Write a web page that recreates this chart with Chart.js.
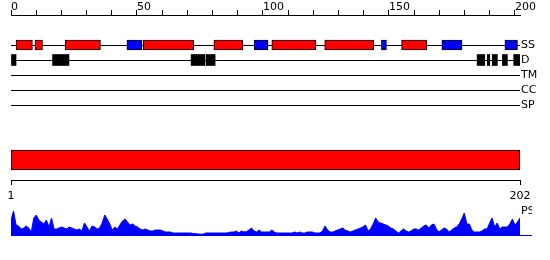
<!DOCTYPE html>
<html>
<head>
<meta charset="utf-8">
<script src="https://cdn.jsdelivr.net/npm/chart.js@4.4.1/dist/chart.umd.min.js"></script>
<style>
  html, body { margin: 0; padding: 0; background: #fff; }
  #wrap { position: relative; width: 550px; height: 260px; }
  canvas { position: absolute; left: 0; }
</style>
</head>
<body>
<div id="wrap">
  <canvas id="tracks" width="550" height="120" style="top:0"></canvas>
  <canvas id="seqBar" width="550" height="70" style="top:130px"></canvas>
  <canvas id="profile" width="550" height="45" style="top:200px"></canvas>
</div>
<script>
// Track names (top panel) and residue ranges
const trackNames = ["SS", "D", "TM", "CC", "SP"];
const axisTicks = [0, 10, 20, 30, 40, 50, 60, 70, 80, 90, 100, 110, 120, 130, 140, 150, 160, 170, 180, 190, 200];
const seqLength = 202;

const helixRanges = [[2, 8.5], [9.5, 12.5], [21.5, 35.5], [52.5, 72.5], [80.5, 92], [103.5, 121], [124.5, 144], [155, 165]];
const strandRanges = [[46, 52], [96.5, 102], [147, 149], [171, 179], [196, 201]];
const disorderRanges = [[0, 2], [16.5, 23], [71.5, 77], [77.5, 81], [185, 188], [189, 190], [191, 193], [195, 197], [199.5, 202]];

// Per-residue profile (PS), residue 1..202
const psValues = [
  15, 24, 10, 9, 6, 7, 9, 7, 3, 17,
  20, 15, 13, 11, 15, 8, 17, 6, 6, 7,
  8, 7, 6, 8, 7, 6, 5, 6, 4, 12,
  8, 4, 9, 8, 6, 7, 12, 20, 16, 11,
  5, 8, 6, 10, 14, 16, 13, 10, 11, 9,
  8, 6, 5, 6, 5, 4, 4, 5, 5, 5,
  4, 3, 3, 3, 2, 2, 2, 2, 2, 2,
  2, 2, 1.5, 1.3, 1, 0.7, 1, 2, 2, 2,
  2, 2, 2, 2, 2, 2, 2.5, 3, 3, 4,
  2, 4, 3, 3.5, 5, 7, 4, 3, 5, 3,
  3, 3, 3, 5, 3, 2, 2, 2, 2, 2,
  2, 2, 3, 2, 3, 2, 2, 3, 3, 3,
  2, 2, 2, 4, 9, 5, 3, 3, 4, 5,
  6, 7, 5, 4, 3, 4, 5, 6, 7, 8,
  10, 4, 6, 11, 17, 13, 12, 11, 10, 9,
  7, 6, 4, 2, 4, 6, 4, 3, 4, 6,
  6, 5, 7, 9, 10, 7, 10, 11, 6, 3,
  5, 7, 6, 3, 5, 7, 8, 11, 16, 22,
  11, 11, 5, 3, 3, 3, 4, 6, 6, 12,
  17, 8, 12, 6, 8, 8, 8, 11, 16, 10,
  13, 17
];

const FONT = { family: "DejaVu Sans", size: 11, lineHeight: 1 };

function trackData(ranges, row) {
  return ranges.map(r => ({ x: r, y: row }));
}

// fixed width for a vertical axis, without the extra label padding
function fixWidth(w) {
  return s => { s.width = w; s.paddingTop = 0; s.paddingBottom = 0; };
}

// Top panel: residue axis and feature tracks
new Chart(document.getElementById("tracks"), {
  type: "bar",
  data: {
    datasets: [
      { data: trackData(helixRanges, 1), backgroundColor: "#ff0000", borderColor: "#000", borderWidth: 1, borderSkipped: false, barThickness: 10, grouped: false },
      { data: trackData(strandRanges, 1), backgroundColor: "#0000ff", borderColor: "#000", borderWidth: 1, borderSkipped: false, barThickness: 10, grouped: false },
      { data: trackData(disorderRanges, 2), backgroundColor: "#000", borderWidth: 0, barThickness: 11, grouped: false }
    ]
  },
  options: {
    indexAxis: "y",
    responsive: false,
    animation: false,
    devicePixelRatio: 1,
    layout: { padding: { left: 11, right: 0, top: 0, bottom: 0 } },
    scales: {
      x: {
        type: "linear",
        position: "top",
        min: 0,
        max: seqLength,
        afterBuildTicks: s => { s.ticks = axisTicks.map(v => ({ value: v })); },
        afterFit: s => { s.height = 15; },
        grid: { drawOnChartArea: false, drawTicks: true, tickLength: 5, tickColor: "#000" },
        border: { display: true, color: "#000", width: 1 },
        ticks: {
          align: "start",
          padding: -3,
          maxRotation: 0,
          autoSkip: false,
          color: "#000",
          font: FONT,
          callback: v => (v % 50 === 0 ? String(v) : "")
        }
      },
      y: {
        type: "linear",
        position: "right",
        reverse: true,
        offset: false,
        min: -1,
        max: 6,
        afterBuildTicks: s => { s.ticks = trackNames.map((n, i) => ({ value: i + 1 })); },
        afterFit: fixWidth(30),
        grid: { color: "#000", drawTicks: false, lineWidth: 1, offset: false },
        border: { display: false },
        ticks: {
          padding: 1,
          color: "#000",
          font: FONT,
          callback: v => trackNames[v - 1] || ""
        }
      }
    },
    plugins: { legend: { display: false }, tooltip: { enabled: false } }
  }
});

// Middle panel: whole-sequence bar with 1..202 axis
new Chart(document.getElementById("seqBar"), {
  type: "bar",
  data: {
    labels: ["seq"],
    datasets: [{ data: [[1, seqLength]], backgroundColor: "#ff0000", borderColor: "#000", borderWidth: 1, borderSkipped: false, barThickness: 20 }]
  },
  options: {
    indexAxis: "y",
    responsive: false,
    animation: false,
    devicePixelRatio: 1,
    layout: { padding: { left: 11, right: 30, top: 10, bottom: 0 } },
    scales: {
      x: {
        type: "linear",
        position: "bottom",
        min: 1,
        max: seqLength,
        afterBuildTicks: s => { s.ticks = [{ value: 1 }, { value: seqLength }]; },
        afterFit: s => { s.height = 20; },
        grid: { drawOnChartArea: false, drawTicks: true, tickLength: 5, tickColor: "#000" },
        border: { display: true, color: "#000", width: 1 },
        ticks: { padding: 6, maxRotation: 0, autoSkip: false, color: "#000", font: FONT }
      },
      y: { display: false }
    },
    plugins: { legend: { display: false }, tooltip: { enabled: false } }
  }
});

// Bottom panel: PS profile area
const blue = "#0000ff";
new Chart(document.getElementById("profile"), {
  type: "line",
  data: {
    datasets: [{
      data: psValues.map((v, i) => ({ x: i + 1, y: v })),
      borderColor: blue,
      backgroundColor: blue,
      borderWidth: 1,
      fill: "origin",
      pointRadius: 0,
      tension: 0
    }]
  },
  options: {
    responsive: false,
    animation: false,
    devicePixelRatio: 1,
    layout: { padding: { left: 11, right: 18, top: 5, bottom: 10 } },
    scales: {
      x: { type: "linear", min: 1, max: seqLength, display: false },
      y: {
        position: "right",
        min: 0,
        max: 30,
        afterBuildTicks: s => { s.ticks = [{ value: 0 }, { value: 24 }]; },
        afterFit: fixWidth(12),
        grid: {
          color: c => (c.tick && c.tick.value === 0 ? blue : "rgba(0,0,0,0)"),
          tickColor: c => (c.tick && c.tick.value === 0 ? blue : "rgba(0,0,0,0)"),
          tickLength: 12
        },
        border: { display: false },
        ticks: { padding: -11, color: "#000", font: FONT, callback: v => (v === 24 ? "PS" : "") }
      }
    },
    plugins: { legend: { display: false }, tooltip: { enabled: false } }
  }
});
</script>
</body>
</html>
